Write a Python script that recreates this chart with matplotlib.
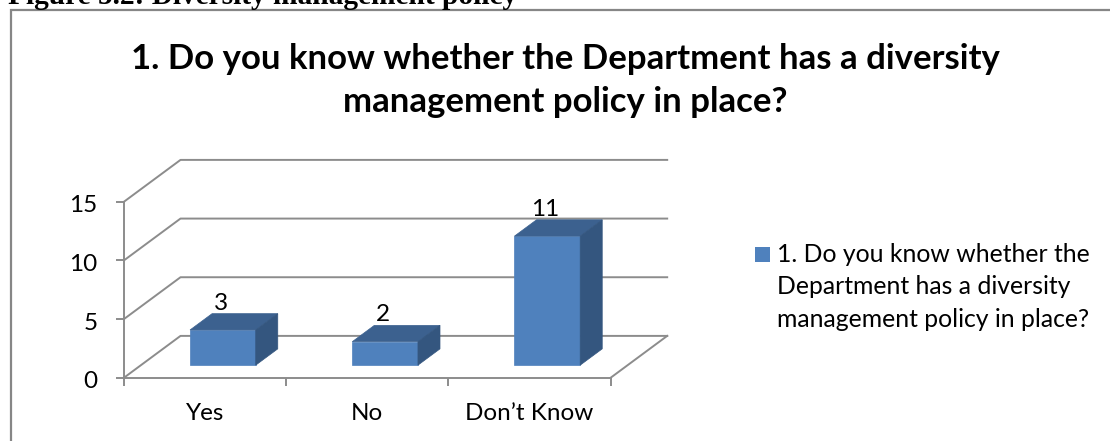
import matplotlib
matplotlib.use("Agg")
import matplotlib.pyplot as plt
from matplotlib.transforms import ScaledTranslation

categories = ["Yes", "No", "Don’t Know"]
values = [3, 2, 11]
y_ticks = [0, 5, 10, 15]
caption = "Figure 5.2: Diversity management policy"
title = "1. Do you know whether the Department has a diversity\nmanagement policy in place?"
legend_label = "1. Do you know whether the\nDepartment has a diversity\nmanagement policy in place?"

W, H = 1110, 441
FRONT, SIDE, TOP = "#4f81bd", "#34567f", "#3c618f"
GRID = "#8c8c8c"

plt.rcParams["font.family"] = ["Lato", "DejaVu Sans"]

fig = plt.figure(figsize=(W / 100, H / 100), dpi=100)
fig.patch.set_facecolor("white")

# axes = the front plane of the 3d box, x in categories, y in values
ax = fig.add_axes([124 / W, 1 - 377.7 / H, (610.7 - 124) / W, 176 / H])
ax.set_xlim(0, 3)
ax.set_ylim(0, 15)
ax.patch.set_alpha(0)
for s in ["top", "right"]:
    ax.spines[s].set_visible(False)
for s in ["left", "bottom"]:
    ax.spines[s].set_color(GRID)
    ax.spines[s].set_linewidth(1.4)

# depth of the box in data units
DX = 56.5 / (486.7 / 3)
DY = 41.8 / (176 / 15)


def proj(x, y, d):
    return x + d * DX, y + d * DY


# walls and floor lines
for t in y_ticks:
    xs, ys = zip(proj(0, t, 0), proj(0, t, 1), proj(3, t, 1))
    ax.plot(xs, ys, color=GRID, lw=1.4, clip_on=False, zorder=1)
xs, ys = zip(proj(3, 0, 0), proj(3, 0, 1))
ax.plot(xs, ys, color=GRID, lw=1.4, clip_on=False, zorder=1)

# bars
bar_w = 0.405
d0, d1 = 0.30, 0.69
for i, v in enumerate(values):
    left = i + 0.5 - bar_w / 2 + 0.005
    right = left + bar_w
    bl = proj(left, 0, d0)
    br = proj(right, 0, d0)
    tl = proj(left, v, d0)
    tr = proj(right, v, d0)
    bl2 = proj(left, v, d1)
    br2 = proj(right, v, d1)
    b2 = proj(right, 0, d1)
    for pts, c in [([bl, br, tr, tl], FRONT), ([tl, tr, br2, bl2], TOP), ([br, b2, br2, tr], SIDE)]:
        ax.fill(*zip(*pts), color=c, lw=0.5, clip_on=False, zorder=3)
    lx, ly = proj(i + 0.5, v, d1)
    ax.text(lx - 0.145, ly + 0.9, str(v), ha="center", va="center", fontsize=17.5, color="black", zorder=4)

ax.set_yticks(y_ticks)
ax.set_xticks([0, 1, 2, 3])
ax.set_xticklabels([])
ax.set_xticks([0.5, 1.5, 2.5], minor=True)
ax.set_xticklabels(categories, minor=True)
ax.tick_params(axis="x", which="major", color=GRID, length=6, width=1.4)
ax.tick_params(axis="x", which="minor", length=0, pad=18, labelsize=17.5)
ax.tick_params(axis="y", color=GRID, length=6, width=1.4, pad=13, labelsize=17.5)
# nudge the value labels down a little
nudge = ScaledTranslation(0, -2 / 100, fig.dpi_scale_trans)
for lab in ax.get_yticklabels():
    lab.set_transform(lab.get_transform() + nudge)

# chart frame, runs off the cropped image on the right and at the bottom
fig.add_artist(plt.Rectangle((10.5 / W, 1 - 480 / H), 1200 / W, 470.5 / H, transform=fig.transFigure,
                             fill=False, edgecolor="#868686", lw=1.6))

# caption is cut by the top edge in the reference too
fig.text(8 / W, 1 - 4 / H, caption, ha="left", va="baseline", fontsize=21.2, fontweight="bold",
         family="Liberation Serif", color="black")
fig.text(565 / W, 1 - 80.5 / H, title, ha="center", va="center", fontsize=25, fontweight="bold",
         color="black", linespacing=1.4)

# legend
fig.patches.append(plt.Rectangle((755 / W, 1 - 262 / H), 15 / W, 15 / H, transform=fig.transFigure,
                                 facecolor=FRONT, edgecolor="none"))
fig.text(777 / W, 1 - 287 / H, legend_label, ha="left", va="center", fontsize=17.8, color="black",
         linespacing=1.52)

fig.savefig("out.png", dpi=100)
